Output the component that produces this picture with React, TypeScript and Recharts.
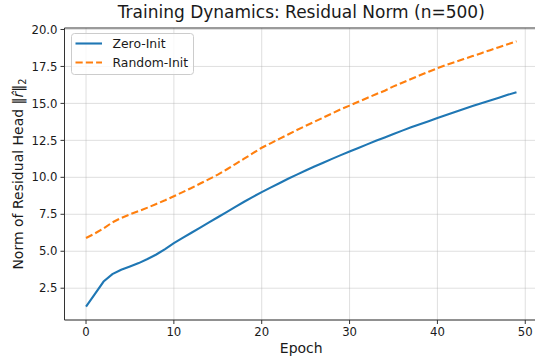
import React from 'react';
import { LineChart, Line, XAxis, YAxis, CartesianGrid, Legend, ReferenceLine } from 'recharts';

const epochs = [
  0, 1, 2, 3, 4, 5, 6, 7, 8, 9,
  10, 11, 12, 13, 14, 15, 16, 17, 18, 19,
  20, 21, 22, 23, 24, 25, 26, 27, 28, 29,
  30, 31, 32, 33, 34, 35, 36, 37, 38, 39,
  40, 41, 42, 43, 44, 45, 46, 47, 48, 49,
];

const zeroInit = [
  1.25, 2.1, 2.95, 3.45, 3.75, 3.97, 4.2, 4.48, 4.78, 5.15,
  5.55, 5.9, 6.25, 6.6, 6.95, 7.3, 7.65, 8.0, 8.35, 8.68,
  9.0, 9.3, 9.6, 9.9, 10.18, 10.46, 10.73, 10.99, 11.25, 11.5,
  11.75, 11.99, 12.23, 12.47, 12.7, 12.93, 13.16, 13.38, 13.59, 13.8,
  14.01, 14.22, 14.42, 14.62, 14.82, 15.01, 15.2, 15.39, 15.58, 15.76,
];

const randomInit = [
  5.9, 6.2, 6.55, 6.95, 7.25, 7.5, 7.72, 7.95, 8.2, 8.45,
  8.72, 9.0, 9.28, 9.58, 9.88, 10.18, 10.53, 10.9, 11.26, 11.63,
  12.0, 12.3, 12.6, 12.9, 13.2, 13.48, 13.76, 14.04, 14.32, 14.6,
  14.85, 15.11, 15.37, 15.62, 15.86, 16.15, 16.4, 16.65, 16.9, 17.14,
  17.38, 17.6, 17.8, 18.0, 18.2, 18.4, 18.6, 18.8, 19.0, 19.2,
];

const xTicks = [0, 10, 20, 30, 40, 50];
const yTicks = [2.5, 5, 7.5, 10, 12.5, 15, 17.5, 20];
const xDomain: [number, number] = [-2.45, 51.45];
const yDomain: [number, number] = [0.35, 20.1];

const titleText = 'Training Dynamics: Residual Norm (n=500)';
const xLabelText = 'Epoch';
const yLabelText = 'Norm of Residual Head ';
const seriesNames = ['Zero-Init', 'Random-Init'];
const seriesColors = ['#1f77b4', '#ff7f0e'];
const seriesDash = [undefined, '7.2 3.1'];

const data = epochs.map((e, i) => ({ epoch: e, zero: zeroInit[i], random: randomInit[i] }));

const FONT = '"DejaVu Sans", sans-serif';
const TEXT = '#1a1a1a';
const LW = 2.1;

const LegendBox = () => (
  <svg width={124} height={43} style={{ display: 'block' }}>
    <rect x={0.5} y={0.5} width={122} height={41} rx={3} ry={3} fill="#ffffff" fillOpacity={0.8} stroke="#cccccc" strokeWidth={1} />
    {seriesNames.map((n, i) => (
      <g key={n}>
        <line x1={4.5} x2={31} y1={10.5 + i * 19} y2={10.5 + i * 19} stroke={seriesColors[i]} strokeWidth={LW} strokeDasharray={seriesDash[i]} />
        <text x={41.5} y={15 + i * 19} fontSize={12.4} fontFamily={FONT} fill={TEXT}>{n}</text>
      </g>
    ))}
  </svg>
);

const XLabel = (props: any) => {
  const vb = props.viewBox || { x: 64.5, y: 320, width: 473.5, height: 38 };
  return (
    <text x={vb.x + vb.width / 2} y={vb.y + 33} textAnchor="middle" fontSize={14} fontFamily={FONT} fill={TEXT}>
      {xLabelText}
    </text>
  );
};

const YLabel = (props: any) => {
  const vb = props.viewBox || { x: 0, y: 28, width: 64.5, height: 292 };
  const cx = 23;
  const cy = vb.y + vb.height / 2;
  return (
    <text x={cx} y={cy} transform={`rotate(-90 ${cx} ${cy})`} textAnchor="middle" fontSize={14} fontFamily={FONT} fill={TEXT}>
      {yLabelText}
      <tspan>‖</tspan>
      <tspan fontStyle="italic">r̂</tspan>
      <tspan>‖</tspan>
      <tspan fontSize={9.8} dy={3}>2</tspan>
    </text>
  );
};

export default function App() {
  return (
    <div style={{ position: 'absolute', left: 0, top: 0, width: 535, height: 358, overflow: 'hidden', background: '#ffffff' }}>
      <div
        style={{
          position: 'absolute',
          left: 64.5,
          width: 473.5,
          top: 2,
          textAlign: 'center',
          fontFamily: FONT,
          fontSize: 17,
          color: TEXT,
          lineHeight: '20px',
          whiteSpace: 'nowrap',
          zIndex: 2,
        }}
      >
        {titleText}
      </div>
      <LineChart width={545} height={358} data={data} margin={{ top: 28, right: 7, bottom: 0, left: 0 }}>
        <CartesianGrid stroke="#b0b0b0" strokeOpacity={0.45} strokeWidth={0.9} />
        <XAxis
          dataKey="epoch"
          type="number"
          domain={xDomain}
          ticks={xTicks}
          allowDataOverflow
          height={38}
          tickSize={4}
          tickMargin={4}
          stroke="#333333"
          tickLine={{ stroke: '#333333' }}
          tick={{ fill: TEXT, fontSize: 11.7, fontFamily: FONT }}
          label={<XLabel />}
        />
        <YAxis
          type="number"
          domain={yDomain}
          ticks={yTicks}
          allowDataOverflow
          width={64.5}
          tickSize={4}
          tickMargin={3}
          stroke="#333333"
          tickLine={{ stroke: '#333333' }}
          tick={{ fill: TEXT, fontSize: 11.7, fontFamily: FONT }}
          tickFormatter={(v: number) => v.toFixed(1)}
          label={<YLabel />}
        />
        <ReferenceLine y={yDomain[1]} stroke="#333333" strokeWidth={0.9} />
        <ReferenceLine x={xDomain[1]} stroke="#333333" strokeWidth={0.9} />
        <Line
          dataKey="zero"
          name={seriesNames[0]}
          stroke={seriesColors[0]}
          strokeWidth={LW}
          dot={false}
          activeDot={false}
          isAnimationActive={false}
        />
        <Line
          dataKey="random"
          name={seriesNames[1]}
          stroke={seriesColors[1]}
          strokeWidth={LW}
          strokeDasharray={seriesDash[1]}
          dot={false}
          activeDot={false}
          isAnimationActive={false}
        />
        <Legend
          layout="vertical"
          align="center"
          verticalAlign="middle"
          content={() => <LegendBox />}
          wrapperStyle={{ position: 'absolute', left: 71, top: 33, width: 124, height: 43, margin: 0, padding: 0 }}
        />
      </LineChart>
    </div>
  );
}
